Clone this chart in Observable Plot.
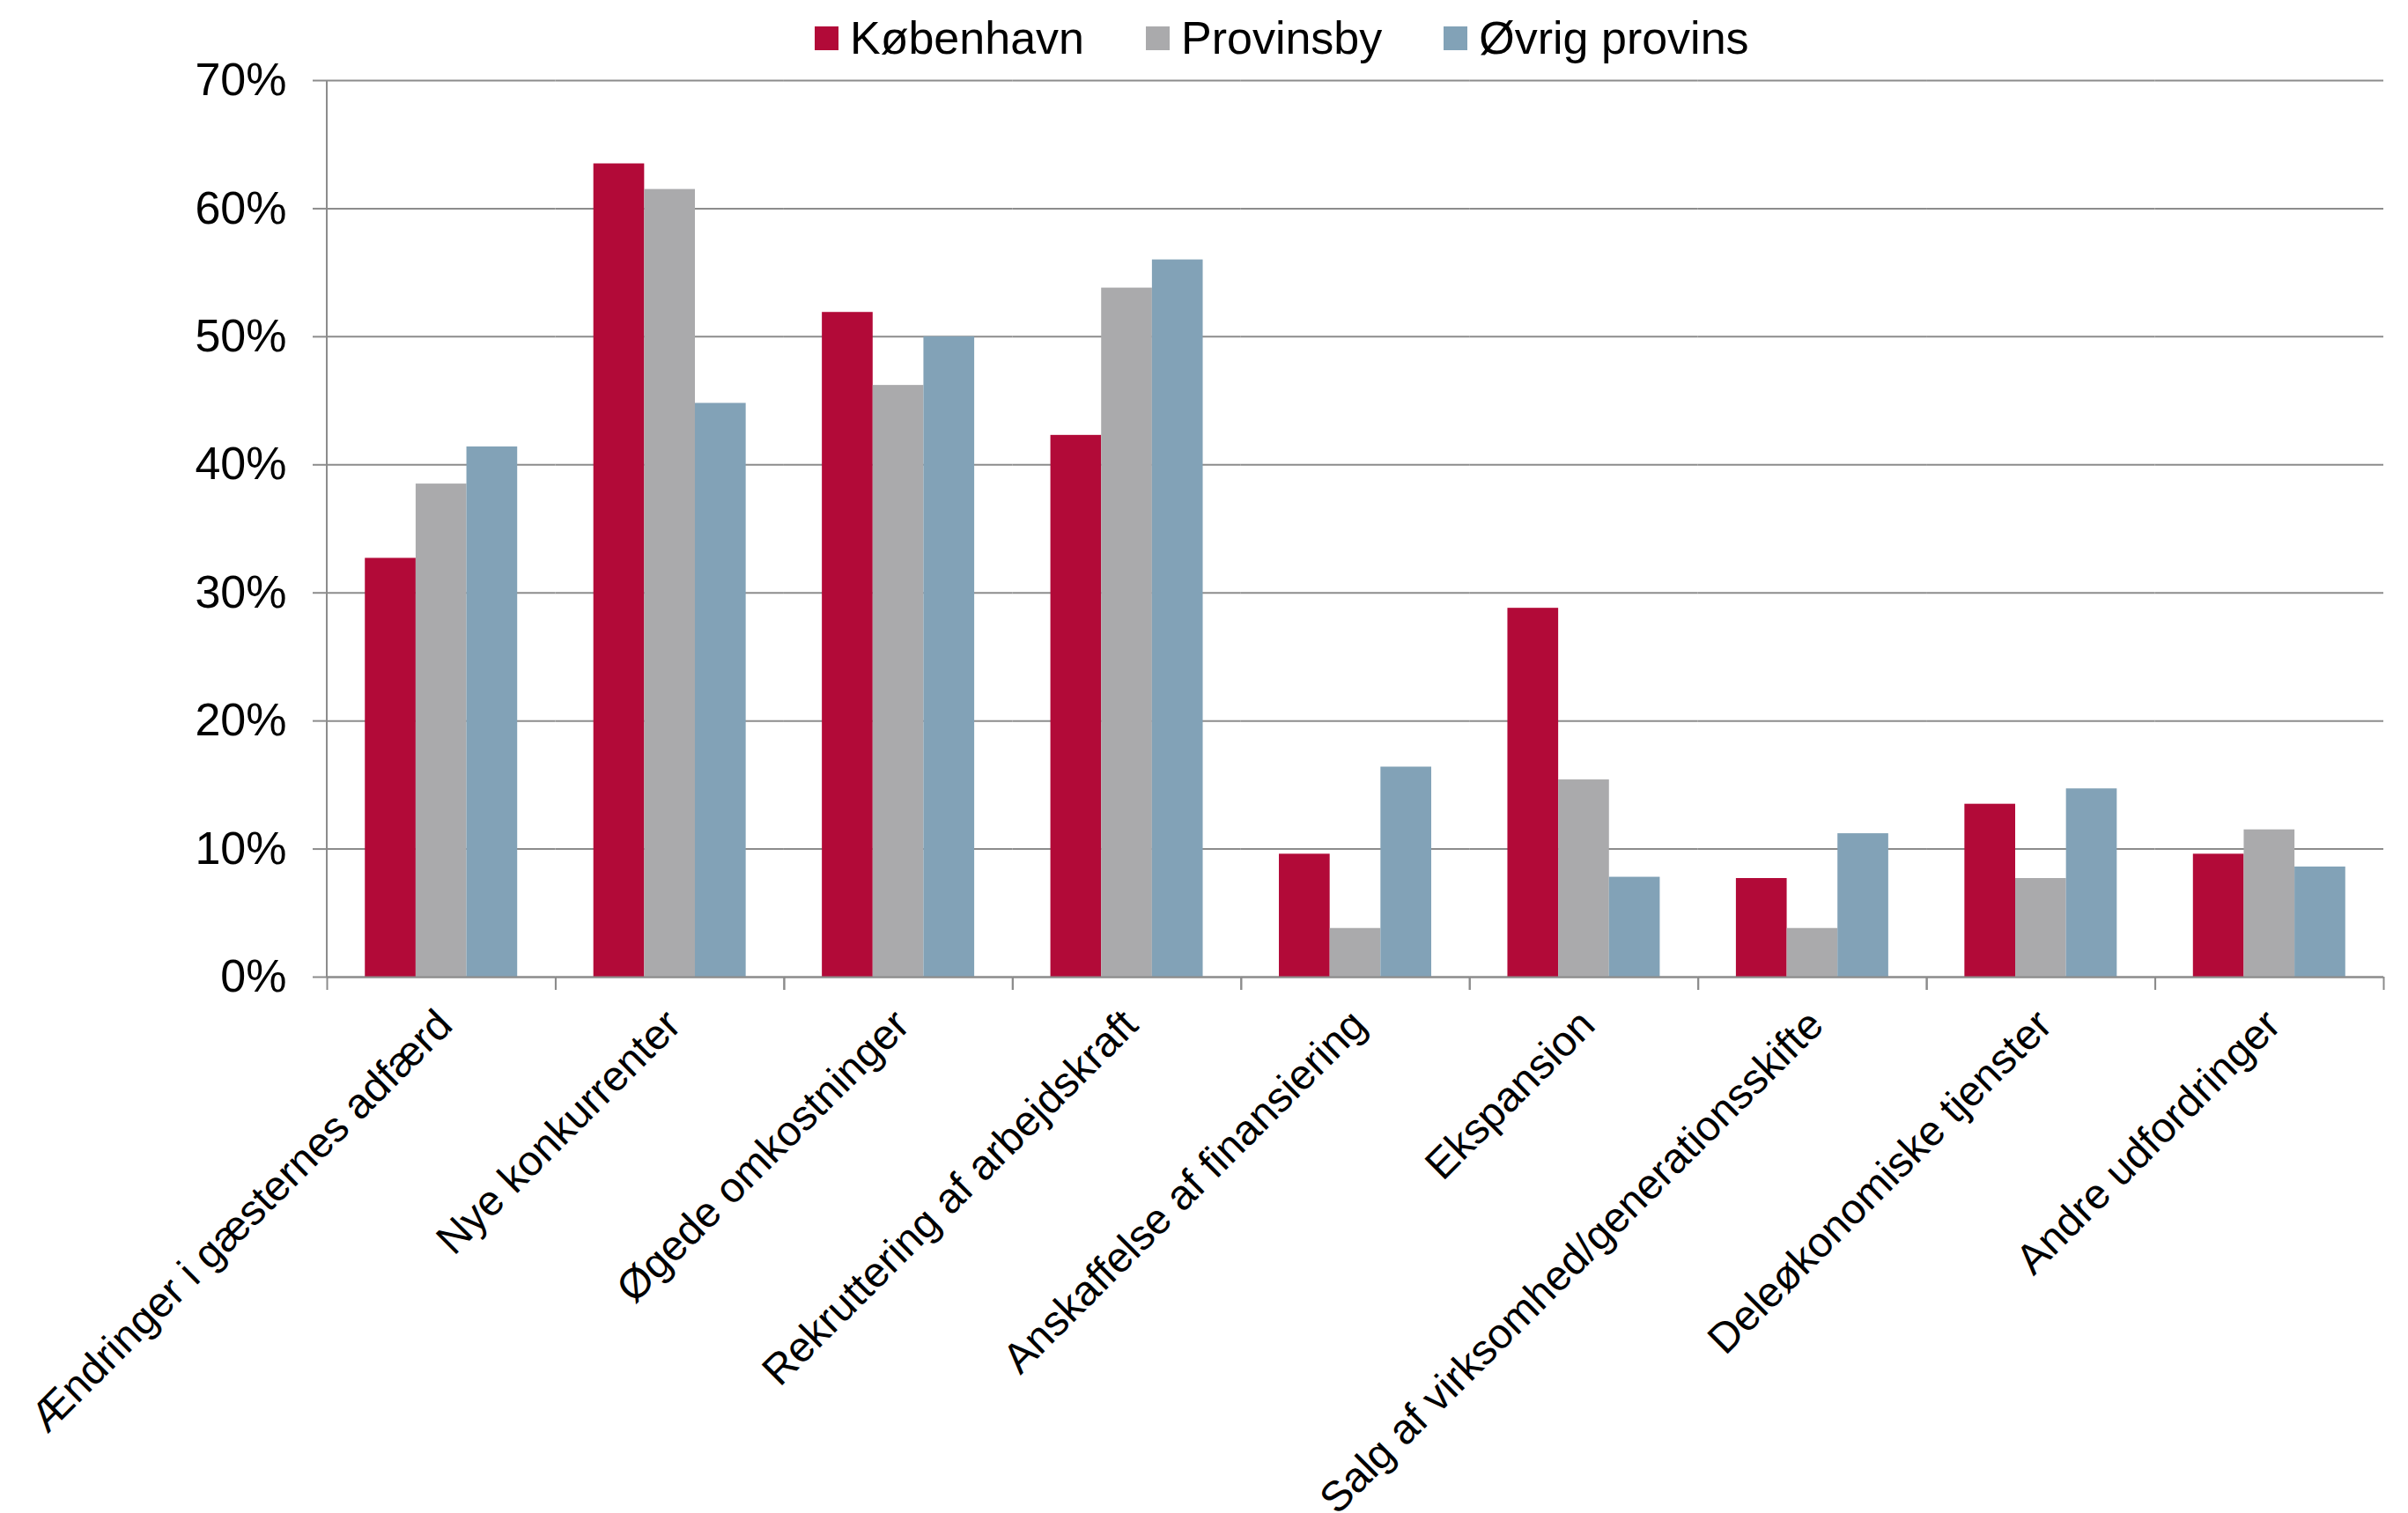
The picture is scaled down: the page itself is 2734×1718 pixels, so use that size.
<!DOCTYPE html>
<html>
<head>
<meta charset="utf-8">
<script src="https://cdn.jsdelivr.net/npm/d3@7"></script>
<script src="https://cdn.jsdelivr.net/npm/@observablehq/plot@0.6"></script>
<style>
  body { margin: 0; background: #fff; }
  #chart { position: relative; width: 2734px; height: 1718px; font-family: "Liberation Sans", Arial, sans-serif; }
  #legend { position: absolute; left: 925px; top: 13px; }
  #legend div { font-family: "Liberation Sans", Arial, sans-serif !important; font-size: 52px !important; line-height: 60px; color: #000; margin: 0 !important; }
  #legend span { margin-right: 70px !important; }
  #legend svg { margin-right: 13px !important; }
</style>
</head>
<body>
<div id="chart"><div id="legend"></div></div>
<script>
// Udfordringer for virksomhederne, fordelt på område (andel i procent)
const categories = [
  "Ændringer i gæsternes adfærd",
  "Nye konkurrenter",
  "Øgede omkostninger",
  "Rekruttering af arbejdskraft",
  "Anskaffelse af finansiering",
  "Ekspansion",
  "Salg af virksomhed/generationsskifte",
  "Deleøkonomiske tjenster",
  "Andre udfordringer"
];
const series = ["København", "Provinsby", "Øvrig provins"];
const colors = ["#B20A38", "#AAAAAC", "#82A2B7"];

const kobenhavn    = [32.7, 63.5, 51.9, 42.3,  9.6, 28.8,  7.7, 13.5,  9.6];
const provinsby    = [38.5, 61.5, 46.2, 53.8,  3.8, 15.4,  3.8,  7.7, 11.5];
const ovrigProvins = [41.4, 44.8, 50.0, 56.0, 16.4,  7.8, 11.2, 14.7,  8.6];

const yTicks = [0, 10, 20, 30, 40, 50, 60, 70];

// Long format table for the grouped bars
const values = [kobenhavn, provinsby, ovrigProvins];
const rows = categories.flatMap((c, i) =>
  series.map((s, j) => ({category: c, series: s, value: values[j][i]}))
);

const W = 2734, H = 1718;
const mL = 371, mR = 28, mT = 91, mB = 609;
const halfBand = (W - mL - mR) / categories.length / 2;
const axisGray = "#8C8C8C";

const plot = Plot.plot({
  width: W,
  height: H,
  marginLeft: mL,
  marginRight: mR,
  marginTop: mT,
  marginBottom: mB,
  style: {fontFamily: "Liberation Sans, Arial, sans-serif", fontSize: "52px", color: "#000", background: "#fff", overflow: "visible"},
  fx: {domain: categories, padding: 0, round: false, label: null},
  x: {domain: series, paddingInner: 0, paddingOuter: 0.75, round: false, axis: null},
  y: {domain: [0, 70], label: null},
  color: {domain: series, range: colors},
  marks: [
    Plot.gridY(yTicks, {stroke: axisGray, strokeOpacity: 1, strokeWidth: 2}),
    Plot.barY(rows, {fx: "category", x: "series", y: "value", fill: "series"}),
    Plot.ruleY([0], {stroke: axisGray, strokeWidth: 2}),
    Plot.axisY(yTicks, {
      label: null, tickSize: 16, tickPadding: 30, tickFormat: d => d + "%",
      stroke: axisGray, strokeWidth: 2, fill: "#000", fontSize: 52
    }),
    // category separator ticks below the baseline
    Plot.axisFx({anchor: "bottom", label: null, tickSize: 15, tickFormat: () => "", stroke: axisGray, strokeWidth: 2, dx: -halfBand}),
    Plot.axisFx([categories[categories.length - 1]], {anchor: "bottom", label: null, tickSize: 15, tickFormat: () => "", stroke: axisGray, strokeWidth: 2, dx: halfBand}),
    // rotated category labels
    Plot.text(categories, {
      fx: d => d, text: d => d, frameAnchor: "bottom",
      rotate: -45, textAnchor: "end", lineAnchor: "bottom",
      dx: 15, dy: 57, fontSize: 48, fill: "#000"
    })
  ]
});

// vertical value axis line
const ys = plot.scale("y");
d3.select(plot).append("line")
  .attr("x1", mL).attr("x2", mL)
  .attr("y1", ys.apply(0)).attr("y2", ys.apply(70))
  .attr("stroke", axisGray).attr("stroke-width", 2);

document.getElementById("chart").appendChild(plot);

const legend = plot.legend("color", {swatchSize: 27});
document.getElementById("legend").appendChild(legend);
</script>
</body>
</html>
